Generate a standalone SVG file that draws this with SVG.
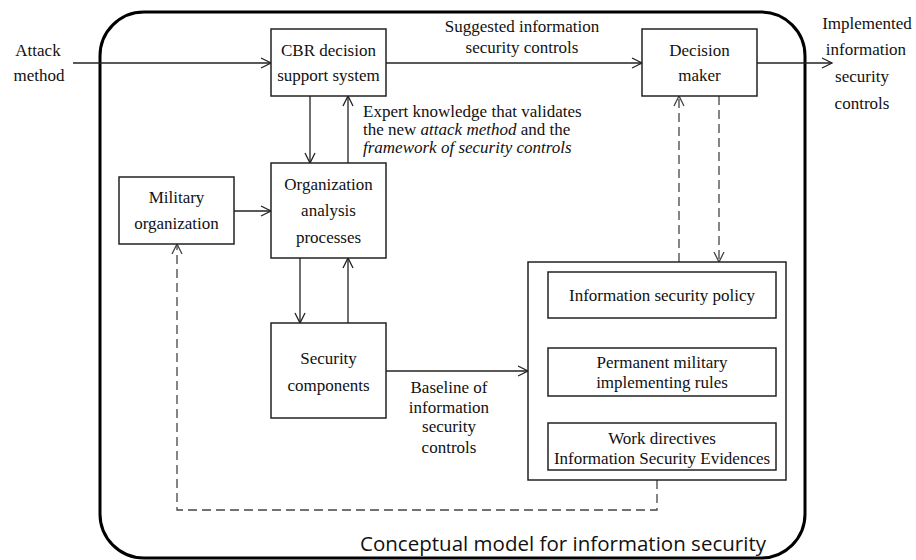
<svg xmlns="http://www.w3.org/2000/svg" width="916" height="560" viewBox="0 0 916 560">
<defs>
<marker id="arr" markerUnits="userSpaceOnUse" markerWidth="14" markerHeight="14" refX="11" refY="6" orient="auto">
<path d="M1,1 L11,6 L1,11" fill="none" stroke="#222" stroke-width="1.3"/>
</marker>
<marker id="arrd" markerUnits="userSpaceOnUse" markerWidth="14" markerHeight="14" refX="11" refY="6" orient="auto">
<path d="M1,1 L11,6 L1,11" fill="none" stroke="#444" stroke-width="1.3"/>
</marker>
<style>
.box{fill:#fff;stroke:#222;stroke-width:1.5}
.t{font-family:"Liberation Serif","Times New Roman",serif;font-size:17px;fill:#111;text-anchor:middle}
.tl{font-family:"Liberation Serif","Times New Roman",serif;font-size:17px;fill:#111}
.ln{fill:none;stroke:#222;stroke-width:1.3;marker-end:url(#arr)}
.dl{fill:none;stroke:#444;stroke-width:1.3;stroke-dasharray:9,5;marker-end:url(#arrd)}
.i{font-style:italic}
</style>
</defs>
<rect width="916" height="560" fill="#fff"/>
<g id="frame">
<rect x="100" y="12" width="705" height="546" rx="44" ry="44" fill="none" stroke="#000" stroke-width="3"/>
<text x="563" y="551" textLength="406" style="font-family:'Open Sans','Liberation Sans',sans-serif;font-size:20.5px;fill:#111;text-anchor:middle">Conceptual model for information security</text>
</g>
<g id="connectors">
<line class="ln" x1="73" y1="63" x2="271" y2="63"/>
<line class="ln" x1="386" y1="63" x2="642" y2="63"/>
<line class="ln" x1="757" y1="63" x2="832" y2="63"/>
<line class="ln" x1="310" y1="96" x2="310" y2="163"/>
<line class="ln" x1="348" y1="163" x2="348" y2="96"/>
<line class="ln" x1="234" y1="211" x2="271" y2="211"/>
<line class="ln" x1="300" y1="258" x2="300" y2="323"/>
<line class="ln" x1="348" y1="323" x2="348" y2="258"/>
<line class="ln" x1="386" y1="371" x2="528" y2="371"/>
<line class="ln" x1="661" y1="318" x2="661" y2="348"/>
<line class="ln" x1="661" y1="396" x2="661" y2="423"/>
<line class="dl" x1="679" y1="262" x2="679" y2="96"/>
<line class="dl" x1="719" y1="96" x2="719" y2="262"/>
<path class="dl" d="M657,480 V510 H177 V244"/>
</g>
<g id="labels">
<text class="t" x="38" y="56">Attack</text>
<text class="t" x="39" y="81">method</text>
<text class="t" x="522" y="32">Suggested information</text>
<text class="t" x="522" y="53">security controls</text>
<text class="t" x="867" y="29">Implemented</text>
<text class="t" x="866" y="55">information</text>
<text class="t" x="862" y="82">security</text>
<text class="t" x="862" y="109">controls</text>
<text class="tl" x="363" y="117">Expert knowledge that validates</text>
<text class="tl" x="363" y="135">the new <tspan class="i">attack method</tspan> and the</text>
<text class="tl" x="363" y="153"><tspan class="i">framework of security controls</tspan></text>
<text class="t" x="449" y="393">Baseline of</text>
<text class="t" x="449" y="413">information</text>
<text class="t" x="449" y="432">security</text>
<text class="t" x="449" y="453">controls</text>
</g>
<g id="cbr">
<rect class="box" x="271" y="29" width="115" height="67"/>
<text class="t" x="328.5" y="56">CBR decision</text>
<text class="t" x="328.5" y="81">support system</text>
</g>
<g id="decision">
<rect class="box" x="642" y="29" width="115" height="67"/>
<text class="t" x="699.5" y="56">Decision</text>
<text class="t" x="699.5" y="81">maker</text>
</g>
<g id="military">
<rect class="box" x="119" y="177" width="115" height="67"/>
<text class="t" x="176.5" y="203">Military</text>
<text class="t" x="176.5" y="229">organization</text>
</g>
<g id="orgAnalysis">
<rect class="box" x="271" y="163" width="115" height="95"/>
<text class="t" x="328.5" y="190">Organization</text>
<text class="t" x="328.5" y="216">analysis</text>
<text class="t" x="328.5" y="243">processes</text>
</g>
<g id="security">
<rect class="box" x="271" y="323" width="115" height="95"/>
<text class="t" x="328.5" y="364">Security</text>
<text class="t" x="328.5" y="391">components</text>
</g>
<g id="policyGroup">
<rect class="box" x="528" y="262" width="258" height="218"/>
</g>
<g id="policy">
<rect class="box" x="548" y="272" width="228" height="46"/>
<text class="t" x="662" y="301">Information security policy</text>
</g>
<g id="rules">
<rect class="box" x="548" y="348" width="228" height="48"/>
<text class="t" x="662" y="368">Permanent military</text>
<text class="t" x="662" y="388">implementing rules</text>
</g>
<g id="directives">
<rect class="box" x="548" y="423" width="228" height="47"/>
<text class="t" x="662" y="444">Work directives</text>
<text class="t" x="662" y="464">Information Security Evidences</text>
</g>
</svg>
